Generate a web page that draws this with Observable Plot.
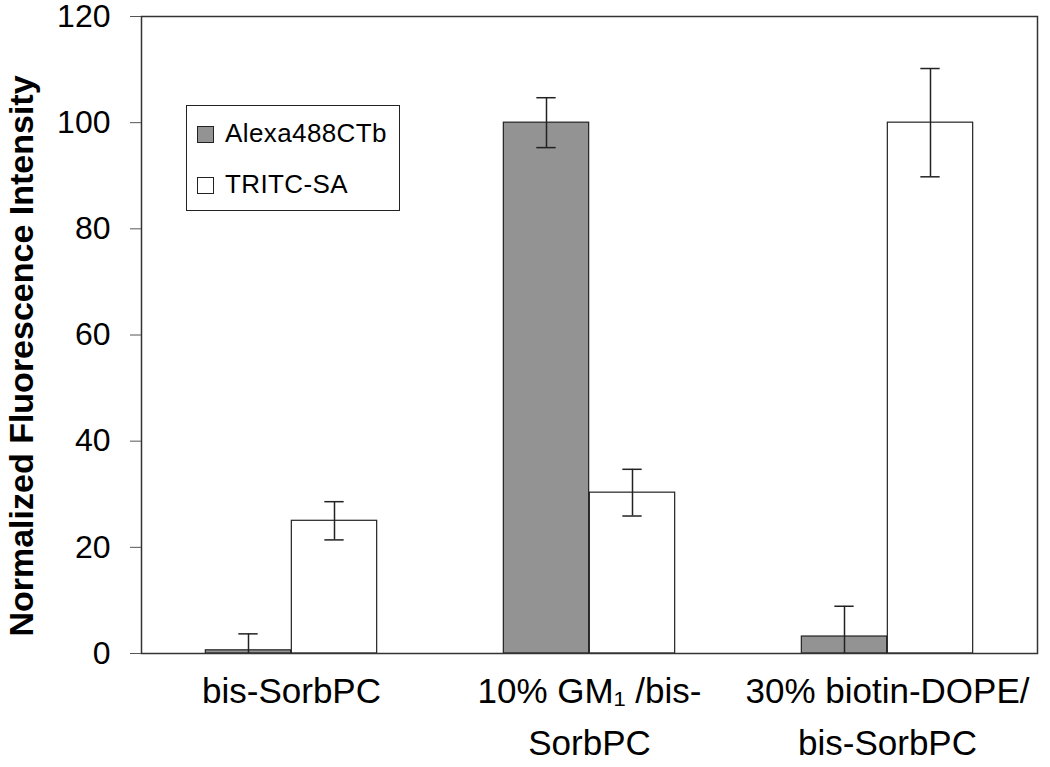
<!DOCTYPE html>
<html>
<head>
<meta charset="utf-8">
<script src="https://cdn.jsdelivr.net/npm/d3@7"></script>
<script src="https://cdn.jsdelivr.net/npm/@observablehq/plot@0.6"></script>
<style>
  html, body { margin: 0; padding: 0; background: #fff; }
  #wrap { position: relative; width: 1050px; height: 767px; font-family: "Liberation Sans", Arial, sans-serif; }
  #wrap svg { position: absolute; left: 0; top: 0; font-family: "Liberation Sans", Arial, sans-serif; }
  #legend { position: absolute; left: 186px; top: 105px; width: 212px; height: 104px; border: 1.5px solid #222; background: #fff; }
  .sw { position: absolute; left: 10px; width: 15px; height: 15px; border: 1.2px solid #222; }
  .lt { position: absolute; left: 38px; font-size: 26px; letter-spacing: 0.4px; color: #000; line-height: 1; white-space: nowrap; }
</style>
</head>
<body>
<div id="wrap"></div>
<script>
// ---- data ----
const categories = ["bis-SorbPC", "10% GM1 /bis-SorbPC", "30% biotin-DOPE/bis-SorbPC"];
const tickLabels = ["bis-SorbPC", "10% GM\u2081 /bis-\nSorbPC", "30% biotin-DOPE/\nbis-SorbPC"];
const seriesNames = ["Alexa488CTb", "TRITC-SA"];
const alexaValues = [0.6, 100, 3.2];
const alexaErrors = [3.1, 4.7, 5.7];
const tritcValues = [25, 30.3, 100];
const tritcErrors = [3.6, 4.4, 10.2];
const yTicks = [0, 20, 40, 60, 80, 100, 120];
const yTitle = ["Normalized Fluorescence Intensity"];
const seriesColors = ["#939393", "#ffffff"];

// ---- layout ----
const W = 1050, H = 767, ML = 141, MR = 13, MT = 16, MB = 114;
const bw = (W - ML - MR) / categories.length;
const barW = 86, capW = 20;
const half = bw / 2;

function rows(values, errors, s) {
  return categories.map((c, i) => ({
    cat: c, series: s, value: values[i],
    lo: Math.max(0, values[i] - errors[i]),
    hi: values[i] + errors[i],
    loVisible: values[i] - errors[i] >= 0
  }));
}
const alexa = rows(alexaValues, alexaErrors, seriesNames[0]);
const tritc = rows(tritcValues, tritcErrors, seriesNames[1]);

const errColor = "#222";
function errMarks(data, side) {
  const dx = side * barW / 2;
  const capLeft = half + dx - capW / 2;
  const capRight = bw - capLeft - capW;
  return [
    Plot.ruleX(data, {x: "cat", y1: "lo", y2: "hi", dx, stroke: errColor, strokeWidth: 1.5}),
    Plot.tickY(data, {x: "cat", y: "hi", insetLeft: capLeft, insetRight: capRight, stroke: errColor, strokeWidth: 1.5}),
    Plot.tickY(data.filter(d => d.loVisible), {x: "cat", y: "lo", insetLeft: capLeft, insetRight: capRight, stroke: errColor, strokeWidth: 1.5})
  ];
}

const chart = Plot.plot({
  width: W, height: H,
  marginLeft: ML, marginRight: MR, marginTop: MT, marginBottom: MB,
  style: {background: "transparent", overflow: "visible"},
  x: {type: "band", domain: categories, padding: 0},
  y: {domain: [0, 120]},
  marks: [
    Plot.barY(alexa, {x: "cat", y: "value", fill: seriesColors[0], stroke: "#222", strokeWidth: 1.2,
      insetLeft: half - barW, insetRight: half}),
    Plot.barY(tritc, {x: "cat", y: "value", fill: seriesColors[1], stroke: "#222", strokeWidth: 1.2,
      insetLeft: half, insetRight: half - barW}),
    ...errMarks(alexa, -1),
    ...errMarks(tritc, 1),
    Plot.frame({stroke: "#333", strokeWidth: 1.5}),
    Plot.axisY({ticks: yTicks, tickSize: 11, tickPadding: 20, fontSize: 32, stroke: "#555", label: null}),
    Plot.axisX({tickSize: 0, tickPadding: 12, fontSize: 35, lineHeight: 1.49,
      tickFormat: (d) => tickLabels[categories.indexOf(d)], label: null}),
    Plot.text(yTitle, {text: d => d, frameAnchor: "left", textAnchor: "middle", rotate: -90, dx: -119, dy: 21,
      fontSize: 34, fontWeight: "bold", fill: "#000"})
  ]
});

const wrap = document.getElementById("wrap");
wrap.appendChild(chart);

const legend = document.createElement("div");
legend.id = "legend";
seriesNames.forEach((s, i) => {
  const sw = document.createElement("div");
  sw.className = "sw";
  sw.style.top = (20 + i * 51) + "px";
  sw.style.background = seriesColors[i];
  legend.appendChild(sw);
  const t = document.createElement("div");
  t.className = "lt";
  t.style.top = (14 + i * 51) + "px";
  t.textContent = s;
  legend.appendChild(t);
});
wrap.appendChild(legend);
</script>
</body>
</html>
